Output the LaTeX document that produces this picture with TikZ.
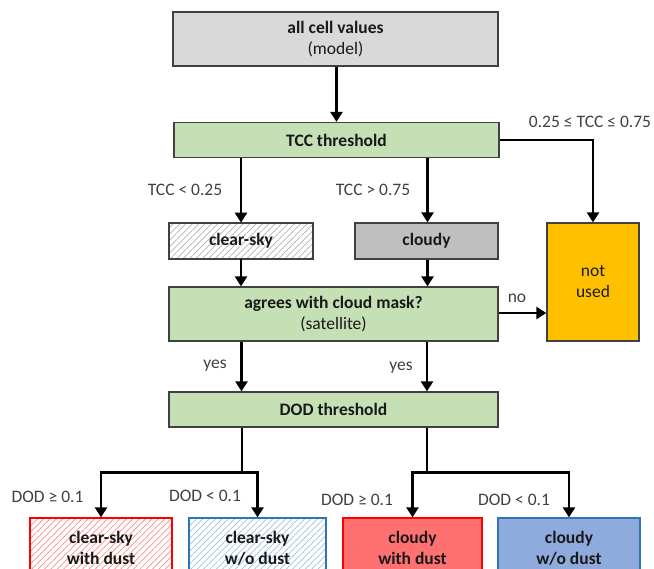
\documentclass[tikz,border=0pt]{standalone}
\usepackage{fontspec}
\setmainfont{Carlito}
\usetikzlibrary{arrows.meta,patterns.meta}
\definecolor{boxline}{HTML}{404040}
\definecolor{topgray}{HTML}{D9D9D9}
\definecolor{okgreen}{HTML}{C5E0B4}
\definecolor{cloudgray}{HTML}{BFBFBF}
\definecolor{amber}{HTML}{FFC000}
\definecolor{dustred}{HTML}{FF7171}
\definecolor{dustblue}{HTML}{8FAADC}
\definecolor{edgeblue}{HTML}{2E75B6}
\definecolor{labgray}{HTML}{404040}
\begin{document}
\begin{tikzpicture}[x=1pt,y=-1pt,
  every node/.style={font=\fontsize{17.5pt}{21pt}\selectfont, inner sep=0pt},
  box/.style={draw=boxline, line width=1.3pt, align=center, text=black!90},
  conn/.style={line width=2.6pt, -{Triangle[length=10pt,width=12pt]}},
  plain/.style={line width=2.6pt},
  lab/.style={text=labgray}
]
\useasboundingbox (0,0) rectangle (654,569);
\clip (0,0) rectangle (654,569);

\node[box, fill=topgray, minimum width=325pt, minimum height=54pt] (top) at (335.5,39) {\textbf{all cell values}\\(model)};
\node[box, fill=okgreen, minimum width=325pt, minimum height=35pt] (tcc) at (336.5,140) {\textbf{TCC threshold}};
\node[box, pattern={Lines[angle=45,distance=4.5pt,line width=0.7pt]}, pattern color=black!30, minimum width=144pt, minimum height=36pt] (clear) at (241,241) {\textbf{clear-sky}};
\node[box, fill=cloudgray, minimum width=143pt, minimum height=36pt] (cloudy) at (426.5,241) {\textbf{cloudy}};
\node[box, fill=amber, minimum width=92pt, minimum height=118pt] (notused) at (593,282) {not\\used};
\node[box, fill=okgreen, minimum width=329pt, minimum height=54pt] (agree) at (333.5,314) {\textbf{agrees with cloud mask?}\\(satellite)};
\node[box, fill=okgreen, minimum width=329pt, minimum height=35pt] (dod) at (333.5,409.5) {\textbf{DOD threshold}};

\node[box, draw=red, pattern={Lines[angle=45,distance=4.5pt,line width=0.7pt]}, pattern color=red!45, minimum width=142pt, minimum height=60pt] (b1) at (101,548) {\textbf{clear-sky}\\\textbf{with dust}};
\node[box, draw=edgeblue, pattern={Lines[angle=45,distance=4.5pt,line width=0.7pt]}, pattern color=edgeblue!45, minimum width=137pt, minimum height=60pt] (b2) at (257.5,548) {\textbf{clear-sky}\\\textbf{w/o dust}};
\node[box, draw=red, fill=dustred, minimum width=139pt, minimum height=60pt] (b3) at (412.5,548) {\textbf{cloudy}\\\textbf{with dust}};
\node[box, draw=edgeblue, fill=dustblue, minimum width=142pt, minimum height=60pt] (b4) at (569,548) {\textbf{cloudy}\\\textbf{w/o dust}};

\coordinate (jl) at (242,472.5);
\coordinate (jr) at (427,472.5);

\draw[conn] (top.south -| 336.5,0) -- (tcc.north -| 336.5,0);
\draw[conn] (tcc.south -| clear.north) -- (clear.north);
\draw[conn] (tcc.south -| 427.5,0) -- (cloudy.north -| 427.5,0);
\draw[conn] (tcc.east) -| (notused.north);
\draw[conn] (clear.south) -- (agree.north -| clear.south);
\draw[conn] (cloudy.south -| 427.5,0) -- (agree.north -| 427.5,0);
\draw[conn] (agree.east |- 0,313) -- (notused.west |- 0,313);
\draw[conn] (agree.south -| 241.5,0) -- (dod.north -| 241.5,0);
\draw[conn] (agree.south -| 427,0) -- (dod.north -| 427,0);
\draw[plain] (dod.south -| jl) -- (jl);
\draw[plain] (dod.south -| jr) -- (jr);
\draw[conn] (jl) -| (b1.north);
\draw[conn] (jl) -| (b2.north);
\draw[conn] (jr) -| (b3.north);
\draw[conn] (jr) -| (b4.north);

\node[lab] (l1) at (185,190) {TCC < 0.25};
\node[lab] (l2) at (373,190) {TCC > 0.75};
\node[lab] (l3) at (590,122) {0.25 ≤ TCC ≤ 0.75};
\node[lab] (l4) at (517,298) {no};
\node[lab] (l5) at (215,366) {yes};
\node[lab] (l6) at (401,368) {yes};
\node[lab] (l7) at (47.5,497) {DOD ≥ 0.1};
\node[lab] (l8) at (205,496) {DOD < 0.1};
\node[lab] (l9) at (357,500) {DOD ≥ 0.1};
\node[lab] (l10) at (514,500) {DOD < 0.1};
\end{tikzpicture}
\end{document}
